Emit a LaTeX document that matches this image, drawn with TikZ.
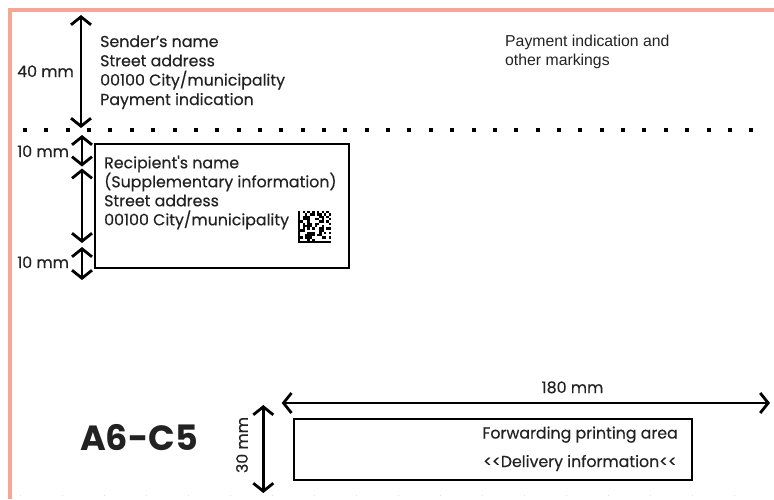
\documentclass[tikz,border=0pt]{standalone}
\usepackage{fontspec}
\setmainfont{Poppins}
\newfontfamily\mfont{Poppins}[FakeBold=0.35]
\newfontfamily\arialfont{Liberation Sans}
\usetikzlibrary{arrows.meta}
\definecolor{salmon}{HTML}{F7A595}
\definecolor{txt}{HTML}{222222}
\tikzset{
  dimarrow/.style={line width=2.8pt, {Straight Barb[length=8pt,width=20pt]}-{Straight Barb[length=8pt,width=20pt]}},
  boxline/.style={draw=black, line width=1.8pt},
  lbl/.style={inner sep=0pt, anchor=base west, text=txt, font=\mfont\fontsize{15.8}{19}\selectfont},
  dimlbl/.style={inner sep=0pt, anchor=base west, text=txt, font=\mfont\fontsize{15.8}{19}\selectfont},
  arl/.style={inner sep=0pt, anchor=base west, text=txt, font=\arialfont\fontsize{15.8}{19}\selectfont},
}
\begin{document}
\begin{tikzpicture}[x=1pt,y=-1pt]
\useasboundingbox (0,0) rectangle (774,499);
% envelope border
\draw[salmon, line width=4pt] (10,499) -- (10,10) -- (774,10);
% faint bottom ticks
\draw[gray!25, line width=0.6pt, dash pattern=on 1pt off 41pt] (20,495.5) -- (774,495.5);
% dotted separator
\foreach \k in {0,...,34} {
  \fill[black] ({25+\k*21.36-2},127.5) rectangle ({25+\k*21.36+2},131.5);
}
% sender block
\node[lbl] (s1) at (100,47) {Sender’s name};
\node[lbl] (s2) at (100,66.3) {Street address};
\node[lbl] (s3) at (100,85.6) {00100 City/municipality};
\node[lbl] (s4) at (100,105) {Payment indication};
% payment markings
\node[arl] (p1) at (505,46.7) {Payment indication and};
\node[arl] (p2) at (505,65.7) {other markings};
% 40 mm
\coordinate (a1t) at (81,15);
\coordinate (a1b) at (81,128);
\draw[dimarrow] (a1t) -- (a1b);
\node[dimlbl] (l40) at (17,77) {40 mm};
% recipient box
\node[boxline, minimum width=254pt, minimum height=123.4pt, inner sep=0pt, anchor=north west] (rbox) at (94.3,143.3) {};
\node[lbl] (r1) at (104,168.3) {Recipient{\char"0027}s name};
\node[lbl] (r2) at (104,187.3) {(Supplementary information)};
\node[lbl] (r3) at (104,206.3) {Street address};
\node[lbl] (r4) at (104,225.3) {00100 City/municipality};
% data matrix
\pgfmathsetseed{7}
\begin{scope}[shift={(298,211)}]
\foreach \i in {0,...,13} {
  \foreach \j in {0,...,13} {
    \pgfmathsetmacro{\r}{rnd}
    \pgfmathtruncatemacro{\on}{(\i==0)||(\j==13)||(\j==0 && mod(\i,2)==0)||(\i==13 && mod(\j,2)==1)||(\i>0 && \i<13 && \j>0 && \j<13 && \r>0.45)}
    \ifnum\on=1
      \fill[black] ({\i*2.36},{\j*2.31}) rectangle ({(\i+1)*2.36+0.05},{(\j+1)*2.31+0.05});
    \fi
  }
}
\end{scope}
% 10 mm arrows
\coordinate (b1t) at (82,135);
\coordinate (b1b) at (82,166.5);
\draw[dimarrow] (b1t) -- (b1b);
\node[dimlbl] (l10a) at (17,157) {10 mm};
\coordinate (b2t) at (82,168.5);
\coordinate (b2b) at (82,243);
\draw[dimarrow] (b2t) -- (b2b);
\coordinate (b3t) at (82,247);
\coordinate (b3b) at (82,280);
\draw[dimarrow] (b3t) -- (b3b);
\node[dimlbl] (l10b) at (17,268) {10 mm};
% A6-C5
\node[inner sep=0pt, anchor=base west, text=txt, font=\fontsize{35}{40}\selectfont\bfseries] (title) at (80,450) {A6-C5};
% 30 mm
\coordinate (c1t) at (263.3,405);
\coordinate (c1b) at (263.3,493);
\draw[dimarrow] (c1t) -- (c1b);
\node[inner sep=0pt, rotate=90, text=txt, font=\mfont\fontsize{15.8}{19}\selectfont] (l30) at (242,445) {30 mm};
% 180 mm
\coordinate (d1l) at (281.7,403);
\coordinate (d1r) at (770,403);
\draw[dimarrow] (d1l) -- (d1r);
\node[inner sep=0pt, anchor=base, text=txt, font=\mfont\fontsize{15.8}{19}\selectfont] (l180) at (572.5,393) {180 mm};
% forwarding box
\node[boxline, minimum width=397.4pt, minimum height=60.5pt, inner sep=0pt, anchor=north west] (fbox) at (293.3,418.3) {};
\node[inner sep=0pt, anchor=base east, text=txt, font=\mfont\fontsize{15.8}{19}\selectfont] (f1) at (678,438.5) {Forwarding printing area};
\node[inner sep=0pt, anchor=base east, text=txt, font=\mfont\fontsize{15.8}{19}\selectfont] (f2) at (677,467) {<{}<Delivery information<{}<};
\end{tikzpicture}
\end{document}
